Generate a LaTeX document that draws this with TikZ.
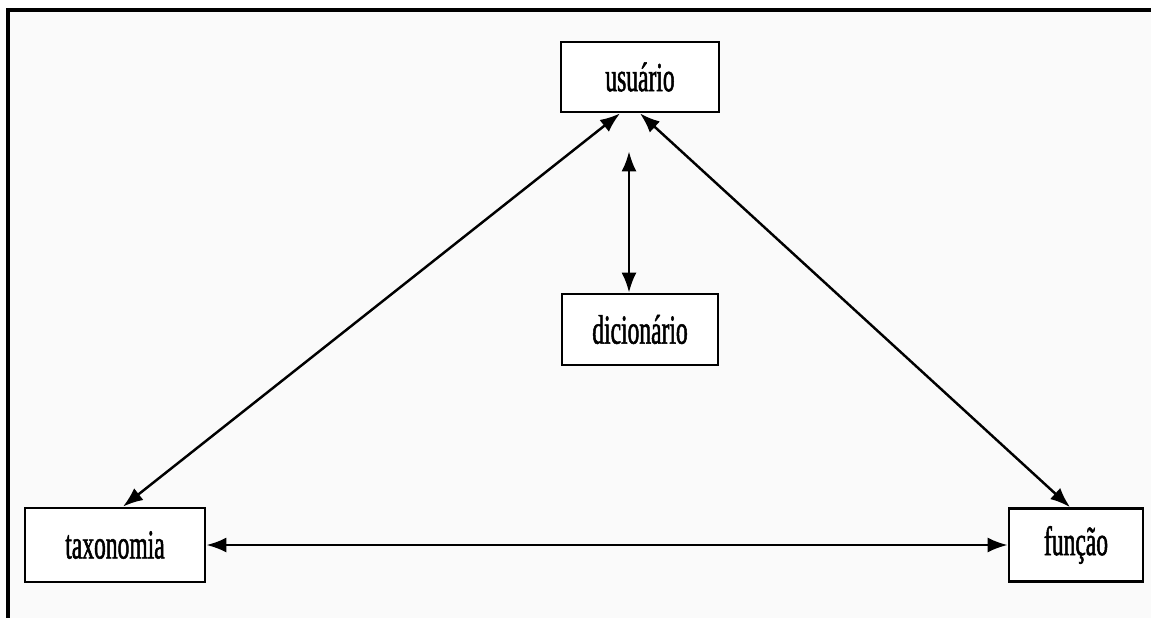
\documentclass[tikz,border=0pt]{standalone}
\usepackage{fontspec}
\usetikzlibrary{arrows.meta}
\newfontfamily\boxfont{Liberation Serif}[FakeStretch=0.57,FakeBold=1.2]

\begin{document}
\begin{tikzpicture}[x=0.02cm,y=-0.02cm,>={Latex[length=0.4cm,width=0.3cm]},
	box/.style={draw,line width=1.6pt,fill=white,inner sep=0pt,
	font=\boxfont\fontsize{23.5}{27}\selectfont},link/.style={<->,line width=1.4pt}]
\useasboundingbox (0,0) rectangle (1151,618);
\fill[black!2] (8,10) rectangle (1151,618);
\draw[line width=2.2pt] (1151,10) -- (8,10) -- (8,618);
\node[box,minimum width=3.16cm,minimum height=1.4cm] (usr) at (640,77) {usuário};
\node[box,minimum width=3.12cm,minimum height=1.42cm] (dic) at (640,329.5) {dicionário};
\node[box,minimum width=3.6cm,minimum height=1.48cm] (tax) at (115,545) {taxonomia};
\node[box,minimum width=2.68cm,minimum height=1.46cm] (fun) at (1076,545) {função};
\draw[link] ([xshift=-0.4cm]usr.south) -- ([xshift=0.16cm]tax.north);
\draw[link] (usr.south) -- ([xshift=-0.12cm]fun.north);
\draw[link] ([xshift=-0.22cm,yshift=-0.76cm]usr.south) -- ([xshift=-0.22cm]dic.north);
\draw[link] (tax) -- (fun);
\end{tikzpicture}
\end{document}
